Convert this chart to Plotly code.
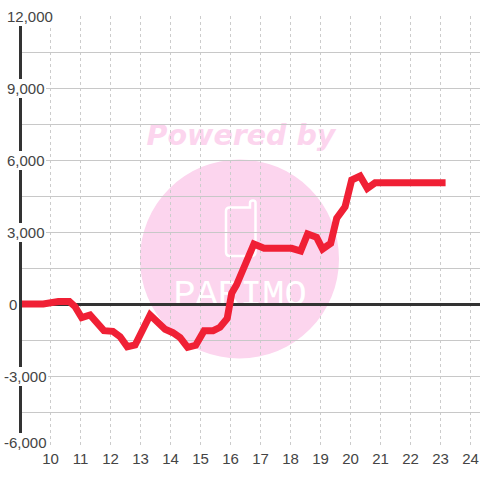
import plotly.graph_objects as go

hours = [8.9, 9.76, 10.26, 10.63, 10.82, 11.04, 11.32, 11.6, 11.78, 12.08, 12.32, 12.56, 12.82,
         13.32, 13.65, 13.82, 14.08, 14.32, 14.57, 14.84, 15.12, 15.42, 15.65, 15.89, 16.04, 16.2,
         16.78, 17.12, 18.04, 18.34, 18.57, 18.87, 19.07, 19.34, 19.54, 19.82, 20.04, 20.32, 20.56,
         20.82, 21.1, 23.17]
values = [0, 0, 100, 100, -110, -570, -458, -900, -1110, -1140, -1360, -1780, -1710,
          -458, -875, -1055, -1195, -1400, -1805, -1720, -1110, -1110, -970, -600, 445, 790,
          2500, 2320, 2320, 2208, 2917, 2778, 2292, 2528, 3570, 4055, 5167, 5333, 4820,
          5050, 5050, 5050]
x_ticks = list(range(10, 25))
y_label_values = [12000, 9000, 6000, 3000, 0, -3000, -6000]
y_label_texts = ["12,000", "9,000", "6,000", "3,000", "0", "-3,000", "-6,000"]

TEXT = "#444444"
PINK = "#fcd5ee"
FONT = "Liberation Sans"
L = 22
PW = 480 - L
def px(v): return (v - L) / PW
def py(v): return 1 - (v - 16) / 432

def text_box(x0, x1, y0, y1, label, family, size, color):
    return dict(type="rect", xref="paper", yref="paper", layer="below",
                x0=px(x0), x1=px(x1), y0=py(y1), y1=py(y0), line=dict(width=0),
                fillcolor="rgba(0,0,0,0)",
                label=dict(text=label, textposition="middle center",
                           font=dict(family=family, size=size, color=color)))

phone = (f"M {px(230)} {py(207.5)} L {px(250)} {py(207.5)} L {px(250)} {py(203)} "
         f"Q {px(250)} {py(200.5)} {px(253)} {py(200.5)} Q {px(255.5)} {py(200.5)} {px(255.5)} {py(203)} "
         f"L {px(255.5)} {py(252)} Q {px(255.5)} {py(256)} {px(251)} {py(256)} L {px(230)} {py(256)} "
         f"Q {px(226)} {py(256)} {px(226)} {py(252)} L {px(226)} {py(211)} "
         f"Q {px(226)} {py(207.5)} {px(230)} {py(207.5)} Z")

shapes = [
    dict(type="circle", xref="paper", yref="paper", layer="below",
         x0=px(140), x1=px(339), y0=py(358.5), y1=py(159.5), fillcolor=PINK, line=dict(width=0)),
    dict(type="path", xref="paper", yref="paper", layer="below", path=phone,
         line=dict(color="white", width=2.5), fillcolor="rgba(0,0,0,0)"),
    text_box(140, 342, 118, 148, "<b><i>Powered by</i></b>", "DejaVu Sans", 28.5, PINK),
    text_box(160, 320, 270, 308, "PARIMO", "Liberation Mono", 37, "white"),
]

annotations = []
for v, t in zip(y_label_values, y_label_texts):
    left = 3 if t.startswith("-") else (8 if t == "0" else 6)
    annotations.append(dict(
        xref="paper", yref="y", x=px(left), y=v,
        xanchor="left", yanchor="middle", text=t, showarrow=False, bgcolor="white", borderpad=0,
        borderwidth=1, bordercolor="white",
        yshift=6 if v == -6000 else 0,
        font=dict(family=FONT, size=15, color=TEXT)))

fig = go.Figure(go.Scatter(x=hours, y=values, mode="lines", cliponaxis=False,
                           line=dict(color="#f02035", width=7, shape="linear"), hoverinfo="skip"))
fig.update_layout(
    width=480, height=480, margin=dict(l=L, r=0, t=16, b=32),
    paper_bgcolor="rgba(0,0,0,0)", plot_bgcolor="rgba(0,0,0,0)", showlegend=False,
    shapes=shapes, annotations=annotations,
    xaxis=dict(range=[9.05, 24.317], tickvals=x_ticks, ticktext=[str(v) for v in x_ticks],
               showgrid=True, gridcolor="#cccccc", gridwidth=1, griddash="3px,3px",
               zeroline=False, showline=False, ticks="", ticklen=0,
               tickfont=dict(family=FONT, size=15, color=TEXT)),
    yaxis=dict(range=[-6000, 12000], dtick=1500, tick0=0, showgrid=True, gridcolor="#c8c8c8", gridwidth=1,
               zeroline=True, zerolinecolor="#333333", zerolinewidth=3,
               showline=True, linecolor="#333333", linewidth=3, showticklabels=False, ticks=""),
)
fig.write_html("out.html", post_script="document.body.style.margin='0';", config={"displayModeBar": False})
